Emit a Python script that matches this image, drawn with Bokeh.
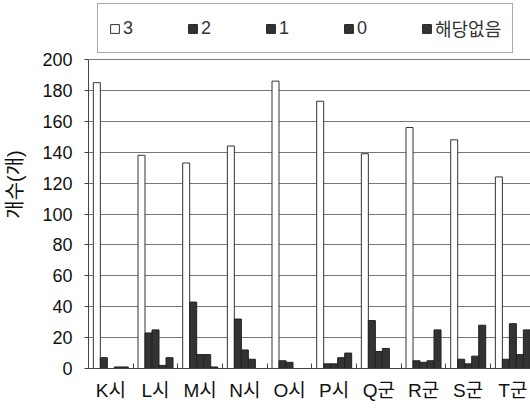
from bokeh.plotting import figure
from bokeh.models import Range1d, FixedTicker, Legend, LegendItem, ColumnDataSource
from bokeh.embed import file_html
from bokeh.resources import INLINE

# ---- data ----
categories = ["K시", "L시", "M시", "N시", "O시", "P시", "Q군", "R군", "S군", "T군"]
series_names = ["3", "2", "1", "0", "해당없음"]
v3 = [185, 138, 133, 144, 186, 173, 139, 156, 148, 124]
v2 = [7, 23, 43, 32, 5, 3, 31, 5, 6, 6]
v1 = [0, 25, 9, 12, 4, 3, 11, 4, 3, 29]
v0 = [1, 2, 9, 6, 0, 7, 13, 5, 8, 9]
vna = [1, 7, 1, 0, 0, 10, 0, 25, 28, 25]
y_ticks = [0, 20, 40, 60, 80, 100, 120, 140, 160, 180, 200]

series_values = [v3, v2, v1, v0, vna]
fills = ["white", "#333333", "#333333", "#333333", "#333333"]
lines = ["#333333", "#222222", "#222222", "#222222", "#222222"]

FONT = "Liberation Sans, Noto Sans CJK KR"

# layout constants (pixels)
W, H = 530, 411
left, bottom = 88, 43
frame_w = W - left
frame_h = H - bottom
top_of_axis_px = 59            # where the value 200 sits from the top of the page
cat_px = 44.67

y_max = y_ticks[-1]
y_end = y_max * frame_h / (frame_h - top_of_axis_px)

p = figure(width=W, height=H, output_backend="svg", toolbar_location=None,
           x_range=Range1d(0, frame_w / cat_px), y_range=Range1d(0, y_end),
           min_border_left=left, min_border_right=0, min_border_top=0, min_border_bottom=bottom)
p.outline_line_color = None
p.background_fill_color = "white"
p.border_fill_color = "white"

cluster = 0.7835
bw = cluster / len(series_names)
renderers = []
for j, (name, vals) in enumerate(zip(series_names, series_values)):
    xs = [i + 0.5 + (j - 2) * bw for i in range(len(categories))]
    src = ColumnDataSource(dict(x=xs, top=vals))
    r = p.vbar(x="x", top="top", bottom=0, width=bw, source=src,
               fill_color=fills[j], line_color=lines[j], line_width=1)
    renderers.append(r)

# axes
centers = [i + 0.5 for i in range(len(categories))]
bounds = [i for i in range(1, len(categories) + 1)]
p.xaxis.ticker = FixedTicker(ticks=centers, minor_ticks=bounds)
p.xaxis.major_label_overrides = {c: lab for c, lab in zip(centers, categories)}
p.xaxis.major_tick_in = 0
p.xaxis.major_tick_out = 0
p.xaxis.minor_tick_in = 5
p.xaxis.minor_tick_out = 0
p.xaxis.minor_tick_line_color = "#444444"
p.xaxis.axis_line_color = "#444444"
p.xaxis.major_label_standoff = 11
p.xaxis.major_label_text_font = FONT
p.xaxis.major_label_text_font_size = "19px"
p.xaxis.major_label_text_color = "#111111"

p.yaxis.ticker = FixedTicker(ticks=y_ticks)
p.yaxis.bounds = (0, y_max)
p.yaxis.minor_tick_line_color = None
p.yaxis.major_tick_out = 4
p.yaxis.major_tick_in = 0
p.yaxis.major_tick_line_color = "#444444"
p.yaxis.axis_line_color = "#444444"
p.yaxis.major_label_standoff = 12
p.yaxis.major_label_text_font = FONT
p.yaxis.major_label_text_font_size = "18px"
p.yaxis.major_label_text_color = "#111111"
p.yaxis.axis_label = "개수(개)"
p.yaxis.axis_label_text_font = FONT
p.yaxis.axis_label_text_font_size = "20px"
p.yaxis.axis_label_text_font_style = "normal"
p.yaxis.axis_label_text_color = "#111111"
p.yaxis.axis_label_standoff = 13

p.xgrid.visible = False
p.ygrid.ticker = FixedTicker(ticks=y_ticks)
p.ygrid.grid_line_color = "#777777"
p.ygrid.grid_line_width = 1

items = [LegendItem(label=n, renderers=[r]) for n, r in zip(series_names, renderers)]
legend = Legend(items=items, location=(9, frame_h - 53), orientation="horizontal",
                padding=11, spacing=0, margin=0, glyph_width=11, glyph_height=11,
                label_width=64, label_standoff=3,
                label_text_font=FONT, label_text_font_size="18px", label_text_color="#333333",
                border_line_color="#555555", border_line_width=1,
                background_fill_color="white", background_fill_alpha=1.0)
p.add_layout(legend)

open("out.html", "w").write(file_html(p, INLINE))
